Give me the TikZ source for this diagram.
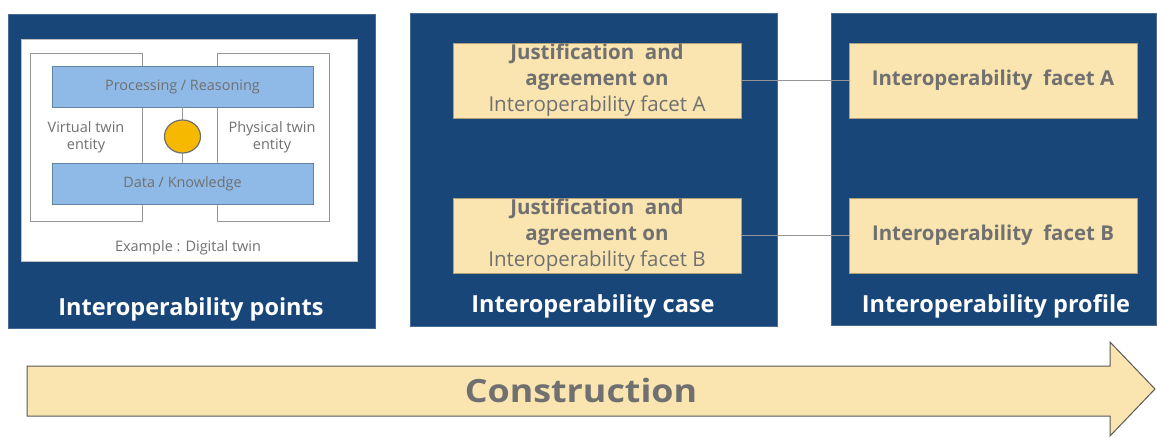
\documentclass[tikz,border=0pt]{standalone}
\usepackage{fontspec}
\setmainfont{Open Sans}
\usetikzlibrary{shapes.geometric}
\definecolor{navy}{RGB}{24,70,121}
\definecolor{cream}{RGB}{250,229,176}
\definecolor{barblue}{RGB}{143,186,232}
\definecolor{txtgrey}{RGB}{112,112,112}
\definecolor{linegrey}{RGB}{150,150,150}
\definecolor{gold}{RGB}{247,185,0}
\begin{document}
\begin{tikzpicture}[x=1pt,y=-1pt,
  panel/.style={fill=navy,draw=navy!80!white,line width=0.6pt},
  title/.style={text=white,font=\fontsize{23.5}{27}\selectfont\bfseries},
  facet/.style={fill=cream,draw=cream!70!black,line width=0.5pt,minimum width=288pt,minimum height=75pt,inner sep=0pt,text=txtgrey},
  bar/.style={fill=barblue,draw=barblue!70!black,line width=0.5pt,text=txtgrey,font=\fontsize{14.4}{17}\selectfont,minimum width=261pt,minimum height=41pt,inner sep=0pt},
  entity/.style={fill=white,draw=linegrey,line width=0.7pt},
  small/.style={text=txtgrey,font=\fontsize{14.5}{17.3}\selectfont,align=center},
  conn/.style={draw=linegrey,line width=0.7pt}]
\useasboundingbox (0,0) rectangle (1157,437);
% panels
\path[panel] (8,14) rectangle (375,328);
\path[panel] (410,13) rectangle (777,326);
\path[panel] (831,13) rectangle (1156,325);
\node[title] (t1) at (191,309) {Interoperability points};
\node[title] (t2) at (593,306) {Interoperability case};
\node[title] (t3) at (996,306) {Interoperability profile};
% panel 1 content
\path[fill=white,draw=linegrey!60,line width=0.5pt] (21,39) rectangle (357,261);
\path[entity] (30,53) rectangle (142,221);
\path[entity] (217,53) rectangle (329,221);
\node[bar] (proc) at (182.5,86.5) {Processing / Reasoning};
\node[bar] (data) at (182.5,183.5) {Data / Knowledge};
\draw[conn] (proc.south) -- (data.north);
\node[ellipse,fill=gold,draw=txtgrey,line width=1.2pt,minimum width=36pt,minimum height=33pt,inner sep=0pt] (pt) at (182.5,136.5) {};
\node[small] (vt) at (86,137) {Virtual twin\\entity};
\node[small] (pht) at (272,137) {Physical twin\\entity};
\node[small] (ex) at (188,248) {Example : Digital twin};
% panel 2 content
\node[facet,align=center,font=\fontsize{20.5}{26}\selectfont] (ja) at (597,80.5) {\textbf{Justification\ \ and}\\\textbf{agreement on}\\Interoperability facet A};
\node[facet,align=center,font=\fontsize{20.5}{26}\selectfont] (jb) at (597,235.5) {\textbf{Justification\ \ and}\\\textbf{agreement on}\\Interoperability facet B};
% panel 3 content
\node[facet,font=\fontsize{20.4}{24}\selectfont\bfseries] (fa) at (993,80.5) {Interoperability\ \ facet A};
\node[facet,font=\fontsize{20.4}{24}\selectfont\bfseries] (fb) at (993,235.5) {Interoperability\ \ facet B};
\draw[conn] (ja.east) -- (fa.west);
\draw[conn] (jb.east) -- (fb.west);
% arrow
\path[fill=cream,draw=black!65,line width=1pt] (27,366) -- (1110,366) -- (1110,342) -- (1155,389) -- (1110,436) -- (1110,416) -- (27,416) -- cycle;
\node[text=txtgrey,font=\fontsize{32}{36}\selectfont\bfseries,xscale=1.12] (con) at (581,390) {Construction};
\end{tikzpicture}
\end{document}
